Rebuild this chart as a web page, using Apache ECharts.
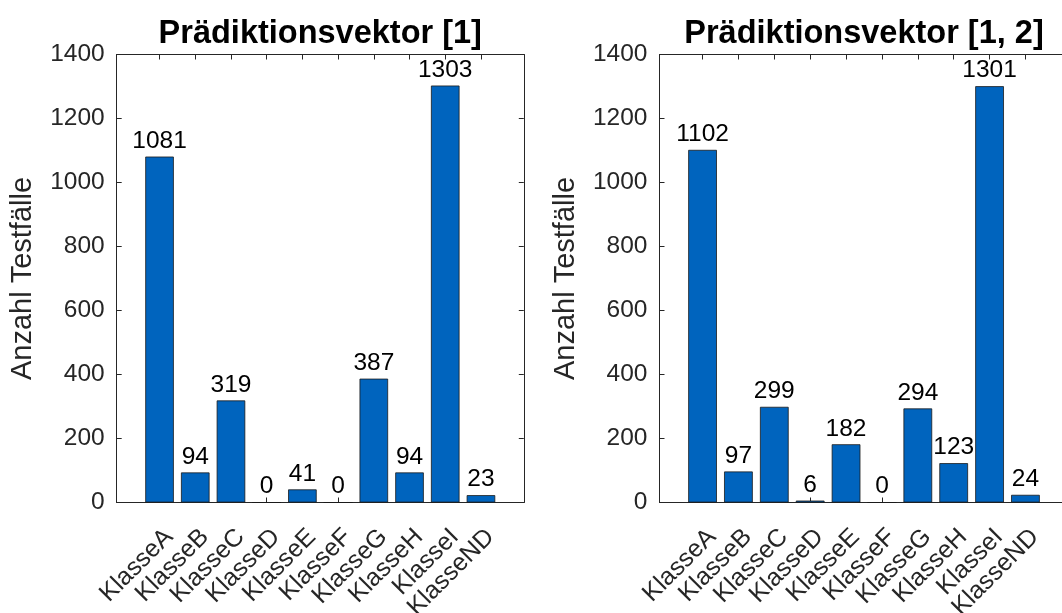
<!DOCTYPE html>
<html>
<head>
<meta charset="utf-8">
<script src="https://cdn.jsdelivr.net/npm/echarts@6/dist/echarts.min.js"></script>
<style>
html,body{margin:0;padding:0;background:#fff;}
#chart{width:1062px;height:613px;}
</style>
</head>
<body>
<div id="chart"></div>
<script>
const categories = ['KlasseA','KlasseB','KlasseC','KlasseD','KlasseE','KlasseF','KlasseG','KlasseH','KlasseI','KlasseND'];
const values1 = [1081, 94, 319, 0, 41, 0, 387, 94, 1303, 23];
const values2 = [1102, 97, 299, 6, 182, 0, 294, 123, 1301, 24];
const titles = ['Prädiktionsvektor [1]', 'Prädiktionsvektor [1, 2]'];
const yAxisName = 'Anzahl Testfälle';
const yMin = 0, yMax = 1400, yStep = 200;

const FONT = "'Liberation Sans', Arial, Helvetica, sans-serif";
const AX = '#262626';
const BAR = '#0064BE';
const positions = categories.map((c, i) => i + 1);

const grids = [
  {left: 116.7, right: 538.2, top: 54.5, bottom: 110.5},
  {left: 659.5, right: -6.5, top: 54.5, bottom: 110.5}
];
const W = 1062;
const xMin = -0.2, xMax = 11.2;

const option = {
  animation: false,
  backgroundColor: '#fff',
  textStyle: {fontFamily: FONT},
  title: [],
  grid: [],
  xAxis: [],
  yAxis: [],
  series: []
};

[values1, values2].forEach((vals, k) => {
  const g = grids[k];
  option.grid.push(Object.assign({containLabel: false, outerBoundsMode: 'none'}, g));
  const gw = W - g.left - g.right;
  const barW = 0.8 * gw / (xMax - xMin);
  option.title.push({
    text: titles[k],
    left: g.left + gw / 2 - 5,
    textAlign: 'center',
    top: 13,
    textStyle: {fontFamily: FONT, fontSize: 32.5, fontWeight: 'bold', color: '#000'}
  });
  const lineStyle = {color: AX, width: 1};
  option.xAxis.push({
    type: 'value', gridIndex: k, position: 'bottom', min: xMin, max: xMax,
    axisLine: {show: true, onZero: false, lineStyle},
    axisTick: {show: true, inside: true, length: 5, lineStyle, customValues: positions},
    axisLabel: {
      show: true, customValues: positions, rotate: 45, margin: 21,
      align: 'right', verticalAlign: 'top', padding: [1, 0, 0, 0],
      formatter: v => categories[Math.round(v) - 1],
      fontSize: 25, color: AX, fontFamily: FONT, hideOverlap: false
    },
    splitLine: {show: false}
  });
  option.xAxis.push({
    type: 'value', gridIndex: k, position: 'top', min: xMin, max: xMax,
    axisLine: {show: true, onZero: false, lineStyle},
    axisTick: {show: true, inside: true, length: 5, lineStyle, customValues: positions},
    axisLabel: {show: false},
    splitLine: {show: false}
  });
  option.yAxis.push({
    type: 'value', gridIndex: k, position: 'left', min: yMin, max: yMax, interval: yStep,
    name: yAxisName, nameLocation: 'middle', nameGap: 79,
    nameTextStyle: {fontSize: 29, color: AX, fontFamily: FONT},
    axisLine: {show: true, onZero: false, lineStyle},
    axisTick: {show: true, inside: true, length: 5, lineStyle},
    axisLabel: {show: true, fontSize: 24.5, color: AX, fontFamily: FONT, margin: 12,
      formatter: v => String(v)},
    splitLine: {show: false}
  });
  option.yAxis.push({
    type: 'value', gridIndex: k, position: 'right', min: yMin, max: yMax, interval: yStep,
    axisLine: {show: true, onZero: false, lineStyle},
    axisTick: {show: true, inside: true, length: 5, lineStyle},
    axisLabel: {show: false},
    splitLine: {show: false}
  });
  option.series.push({
    type: 'bar',
    xAxisIndex: 2 * k,
    yAxisIndex: 2 * k,
    barWidth: barW,
    data: vals.map((v, i) => [positions[i], v]),
    itemStyle: {color: BAR, borderColor: '#1a1a1a', borderWidth: 0.8},
    label: {
      show: true, position: 'top', distance: 3,
      formatter: p => String(p.value[1]),
      fontSize: 24.5, color: '#000', fontFamily: FONT
    },
    z: 1
  });
});

const chart = echarts.init(document.getElementById('chart'), null, {renderer: 'canvas'});
chart.setOption(option);
</script>
</body>
</html>
